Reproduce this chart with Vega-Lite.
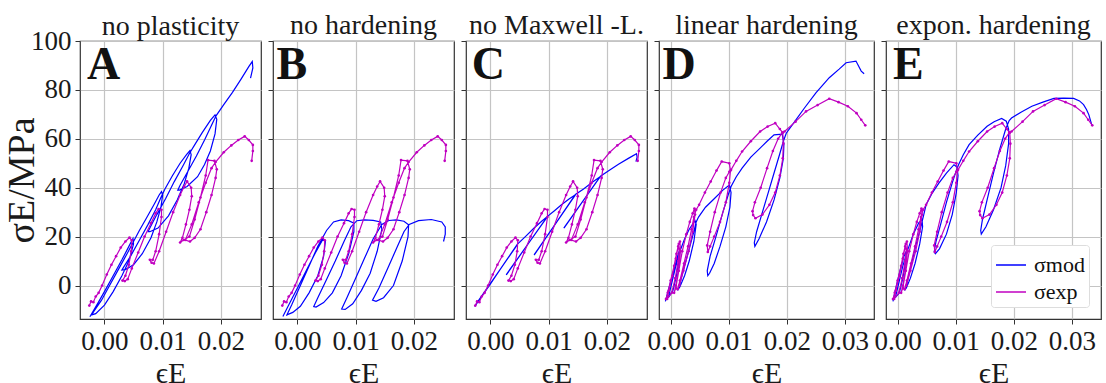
{
"$schema":"https://vega.github.io/schema/vega-lite/v6.json",
"padding":{"left":2,"top":10,"right":0,"bottom":0},
"spacing":12,
"bounds":"flush",
"background":"white",
"datasets":{
"A":[{"x":-0.0025,"y":-12.8},{"x":-0.0012,"y":-7.5},{"x":0.0,"y":-2.5},{"x":0.0015,"y":4},{"x":0.003,"y":10.5},{"x":0.0042,"y":16},{"x":0.0049,"y":19.2},{"x":0.005,"y":17},{"x":0.0042,"y":10},{"x":0.003,"y":4},{"x":0.0015,"y":-2.5},{"x":0.0,"y":-8},{"x":-0.0015,"y":-11.5},{"x":-0.0022,"y":-12},{"x":-0.0018,"y":-10.5},{"x":-0.0005,"y":-6},{"x":0.001,"y":0.5},{"x":0.0025,"y":7},{"x":0.004,"y":13.5},{"x":0.005,"y":18},{"x":0.006,"y":22.5},{"x":0.0072,"y":27.5},{"x":0.0085,"y":33},{"x":0.0094,"y":37},{"x":0.0098,"y":38.4},{"x":0.01,"y":37},{"x":0.0097,"y":32},{"x":0.009,"y":26},{"x":0.008,"y":19.5},{"x":0.0065,"y":13},{"x":0.005,"y":8.5},{"x":0.0036,"y":6.5},{"x":0.003,"y":6.3},{"x":0.0033,"y":7.5},{"x":0.0045,"y":12},{"x":0.006,"y":18.5},{"x":0.0075,"y":25},{"x":0.0088,"y":31},{"x":0.0097,"y":36},{"x":0.0104,"y":39.5},{"x":0.0117,"y":45},{"x":0.013,"y":50},{"x":0.0141,"y":53.5},{"x":0.0147,"y":55.2},{"x":0.0149,"y":53.5},{"x":0.0145,"y":48},{"x":0.0137,"y":41.5},{"x":0.0125,"y":35},{"x":0.011,"y":28.5},{"x":0.0092,"y":23.5},{"x":0.0078,"y":22},{"x":0.0075,"y":22},{"x":0.0078,"y":23.5},{"x":0.009,"y":29},{"x":0.0105,"y":35.5},{"x":0.012,"y":42.5},{"x":0.0135,"y":49},{"x":0.0146,"y":54},{"x":0.0155,"y":57.5},{"x":0.0168,"y":62.5},{"x":0.0182,"y":67.5},{"x":0.019,"y":69.8},{"x":0.0193,"y":68},{"x":0.019,"y":62},{"x":0.0182,"y":55},{"x":0.0172,"y":49.5},{"x":0.016,"y":44.5},{"x":0.0142,"y":40.5},{"x":0.0129,"y":39},{"x":0.0126,"y":39},{"x":0.013,"y":41},{"x":0.0143,"y":46.5},{"x":0.0158,"y":53},{"x":0.0172,"y":59.5},{"x":0.0184,"y":65.5},{"x":0.0192,"y":69.5},{"x":0.0205,"y":74},{"x":0.022,"y":79},{"x":0.0235,"y":84.5},{"x":0.0248,"y":89.5},{"x":0.0254,"y":91.6},{"x":0.0255,"y":89},{"x":0.0251,"y":84.8}],
"B":[{"x":-0.0025,"y":-12.7},{"x":-0.0015,"y":-8},{"x":0.0,"y":-1},{"x":0.0015,"y":6},{"x":0.003,"y":13},{"x":0.0044,"y":19},{"x":0.0048,"y":18},{"x":0.0045,"y":12},{"x":0.0035,"y":4},{"x":0.002,"y":-3},{"x":0.0005,"y":-8.5},{"x":-0.0008,"y":-11},{"x":-0.0018,"y":-12},{"x":-0.001,"y":-8},{"x":0.0005,"y":0},{"x":0.002,"y":8},{"x":0.0035,"y":16},{"x":0.005,"y":22.5},{"x":0.0062,"y":26},{"x":0.0075,"y":26.8},{"x":0.0088,"y":26.5},{"x":0.0097,"y":25.5},{"x":0.0097,"y":22},{"x":0.0088,"y":13},{"x":0.0075,"y":4},{"x":0.006,"y":-3},{"x":0.0045,"y":-7},{"x":0.0032,"y":-8.8},{"x":0.0028,"y":-8.6},{"x":0.0035,"y":-5},{"x":0.005,"y":2.5},{"x":0.0065,"y":10},{"x":0.008,"y":18},{"x":0.0092,"y":24},{"x":0.0102,"y":26.5},{"x":0.0115,"y":26.8},{"x":0.013,"y":26.6},{"x":0.0143,"y":26},{"x":0.0145,"y":23},{"x":0.0137,"y":14},{"x":0.0125,"y":5},{"x":0.011,"y":-2},{"x":0.0095,"y":-7.5},{"x":0.0082,"y":-9.8},{"x":0.0076,"y":-9.6},{"x":0.0085,"y":-5},{"x":0.01,"y":3},{"x":0.0115,"y":11},{"x":0.013,"y":19},{"x":0.0145,"y":25},{"x":0.0157,"y":26.6},{"x":0.017,"y":26.8},{"x":0.0183,"y":26.3},{"x":0.0191,"y":24.8},{"x":0.019,"y":20},{"x":0.018,"y":10},{"x":0.0165,"y":0},{"x":0.0148,"y":-5},{"x":0.0135,"y":-6.5},{"x":0.0129,"y":-6},{"x":0.014,"y":-1},{"x":0.0155,"y":7},{"x":0.017,"y":15},{"x":0.0183,"y":22},{"x":0.0192,"y":25},{"x":0.0208,"y":26.5},{"x":0.023,"y":27},{"x":0.0248,"y":26},{"x":0.0254,"y":24},{"x":0.0254,"y":21},{"x":0.0251,"y":18}],
"C":[{"x":-0.0027,"y":-8.6},{"x":-0.0015,"y":-4.5},{"x":0.0,"y":0.7},{"x":0.0015,"y":6},{"x":0.003,"y":11.2},{"x":0.0046,"y":16.6},{"x":-0.0023,"y":-7},{"x":-0.0021,"y":-6.6},{"x":0.0046,"y":16.8},{"x":0.006,"y":20},{"x":0.0075,"y":23.5},{"x":0.0088,"y":26.3},{"x":0.0098,"y":28.2},{"x":0.0027,"y":4.4},{"x":0.0028,"y":4.6},{"x":0.0098,"y":28.3},{"x":0.011,"y":30.6},{"x":0.0122,"y":33},{"x":0.0135,"y":35.4},{"x":0.0146,"y":37.1},{"x":0.0075,"y":12.5},{"x":0.0076,"y":12.7},{"x":0.0146,"y":37.2},{"x":0.016,"y":39.5},{"x":0.0175,"y":42.2},{"x":0.0189,"y":44.6},{"x":0.0126,"y":23.5},{"x":0.0127,"y":23.7},{"x":0.0189,"y":44.7},{"x":0.0205,"y":47.2},{"x":0.022,"y":49.6},{"x":0.0237,"y":52},{"x":0.0251,"y":53.9},{"x":0.0252,"y":52.5},{"x":0.025,"y":50.7}],
"D":[{"x":-0.0009,"y":-6.5},{"x":-0.0004,"y":-2},{"x":0.0004,"y":5},{"x":0.0012,"y":12},{"x":0.0016,"y":15},{"x":0.0015,"y":11},{"x":0.001,"y":4},{"x":0.0004,"y":-2},{"x":-0.0004,"y":-5},{"x":0.0,"y":-1},{"x":0.0008,"y":7},{"x":0.0016,"y":14},{"x":0.0024,"y":19},{"x":0.0032,"y":23},{"x":0.0042,"y":26.5},{"x":0.0044,"y":25},{"x":0.004,"y":18},{"x":0.0032,"y":10},{"x":0.0024,"y":4},{"x":0.0016,"y":-0.5},{"x":0.0012,"y":-2},{"x":0.0016,"y":1},{"x":0.0024,"y":8},{"x":0.0032,"y":15},{"x":0.004,"y":22},{"x":0.0044,"y":26},{"x":0.0048,"y":28},{"x":0.006,"y":32},{"x":0.0075,"y":35.5},{"x":0.009,"y":39},{"x":0.0101,"y":41.1},{"x":0.0104,"y":38},{"x":0.0102,"y":32},{"x":0.0095,"y":24},{"x":0.0085,"y":16},{"x":0.0075,"y":9},{"x":0.0067,"y":5},{"x":0.0064,"y":4},{"x":0.0063,"y":6},{"x":0.0068,"y":12},{"x":0.0078,"y":20},{"x":0.009,"y":30},{"x":0.0099,"y":37},{"x":0.0104,"y":40.5},{"x":0.0113,"y":44.5},{"x":0.0123,"y":48},{"x":0.0138,"y":52.5},{"x":0.0154,"y":56.2},{"x":0.0166,"y":59},{"x":0.0178,"y":61.6},{"x":0.0192,"y":61.9},{"x":0.0195,"y":58},{"x":0.0194,"y":52},{"x":0.0188,"y":44},{"x":0.0178,"y":35},{"x":0.0165,"y":26},{"x":0.0152,"y":19},{"x":0.0145,"y":16},{"x":0.0144,"y":17.5},{"x":0.0148,"y":22},{"x":0.0158,"y":30},{"x":0.0168,"y":38},{"x":0.0178,"y":46},{"x":0.0188,"y":54},{"x":0.0194,"y":59},{"x":0.0199,"y":62.3},{"x":0.0215,"y":67.5},{"x":0.023,"y":72.5},{"x":0.025,"y":78.8},{"x":0.0273,"y":85},{"x":0.029,"y":88.5},{"x":0.0302,"y":91.1},{"x":0.0319,"y":91.8},{"x":0.0328,"y":87.7},{"x":0.0333,"y":86.6}],
"E":[{"x":-0.0008,"y":-6.5},{"x":-0.0003,"y":-1},{"x":0.0004,"y":6},{"x":0.0011,"y":12},{"x":0.0015,"y":14},{"x":0.0014,"y":10},{"x":0.0009,"y":3},{"x":0.0003,"y":-3},{"x":-0.0004,"y":-5},{"x":0.0001,"y":0},{"x":0.0009,"y":8},{"x":0.0018,"y":15},{"x":0.0027,"y":21},{"x":0.0036,"y":25.5},{"x":0.0042,"y":27},{"x":0.0043,"y":24},{"x":0.0038,"y":17},{"x":0.003,"y":9},{"x":0.0022,"y":3},{"x":0.0015,"y":-1},{"x":0.0012,"y":-2},{"x":0.0016,"y":1},{"x":0.0024,"y":9},{"x":0.0032,"y":17},{"x":0.004,"y":24},{"x":0.0045,"y":29},{"x":0.0049,"y":33},{"x":0.006,"y":38},{"x":0.0071,"y":41.9},{"x":0.0084,"y":46},{"x":0.0097,"y":49.4},{"x":0.0102,"y":48.5},{"x":0.0104,"y":45},{"x":0.0101,"y":38},{"x":0.0094,"y":29},{"x":0.0084,"y":21},{"x":0.0072,"y":15},{"x":0.0065,"y":13},{"x":0.0063,"y":13.8},{"x":0.0066,"y":18},{"x":0.0074,"y":25},{"x":0.0084,"y":34},{"x":0.0094,"y":42},{"x":0.0101,"y":47},{"x":0.0105,"y":49.5},{"x":0.0113,"y":53.5},{"x":0.0123,"y":57.6},{"x":0.0138,"y":61.5},{"x":0.0154,"y":65.1},{"x":0.0166,"y":67},{"x":0.0179,"y":68.3},{"x":0.0187,"y":67.2},{"x":0.0191,"y":64},{"x":0.0191,"y":58},{"x":0.0186,"y":49},{"x":0.0178,"y":40},{"x":0.0165,"y":31},{"x":0.0152,"y":24},{"x":0.0144,"y":21},{"x":0.0143,"y":22.5},{"x":0.0146,"y":27},{"x":0.0155,"y":36},{"x":0.0165,"y":46},{"x":0.0176,"y":56},{"x":0.0186,"y":64},{"x":0.0192,"y":67.5},{"x":0.0196,"y":68.5},{"x":0.0213,"y":71},{"x":0.0231,"y":73.3},{"x":0.025,"y":75},{"x":0.0269,"y":76.5},{"x":0.0286,"y":76.6},{"x":0.0303,"y":76.5},{"x":0.0313,"y":75.5},{"x":0.032,"y":74},{"x":0.0325,"y":72},{"x":0.0329,"y":69.9},{"x":0.0334,"y":65.8}],
"xABC":[{"x":-0.0026,"y":-8.2},{"x":-0.0023,"y":-6.5},{"x":-0.0019,"y":-6.8},{"x":-0.0015,"y":-4.5},{"x":-0.001,"y":-3},{"x":-0.0004,"y":0},{"x":0.0004,"y":4.5},{"x":0.0012,"y":8.5},{"x":0.002,"y":12},{"x":0.0028,"y":15.5},{"x":0.0036,"y":18},{"x":0.0043,"y":19.6},{"x":0.0047,"y":18.5},{"x":0.0046,"y":14},{"x":0.0042,"y":8.5},{"x":0.0036,"y":4},{"x":0.0031,"y":2},{"x":0.0035,"y":1.8},{"x":0.004,"y":2.6},{"x":0.0047,"y":7},{"x":0.0058,"y":13.5},{"x":0.0069,"y":20},{"x":0.008,"y":25.5},{"x":0.0088,"y":29.5},{"x":0.0093,"y":31.3},{"x":0.0098,"y":31},{"x":0.0098,"y":28},{"x":0.0094,"y":21},{"x":0.0088,"y":14},{"x":0.0083,"y":10.5},{"x":0.0078,"y":10.5},{"x":0.0081,"y":9.3},{"x":0.0085,"y":9},{"x":0.0094,"y":14},{"x":0.0106,"y":22},{"x":0.0118,"y":30},{"x":0.013,"y":37},{"x":0.0137,"y":40.5},{"x":0.0142,"y":42.6},{"x":0.0149,"y":40},{"x":0.015,"y":36.5},{"x":0.0146,"y":31},{"x":0.014,"y":25},{"x":0.0134,"y":19.5},{"x":0.013,"y":17.6},{"x":0.0136,"y":18.6},{"x":0.0146,"y":20},{"x":0.0155,"y":27},{"x":0.0165,"y":36},{"x":0.0174,"y":45},{"x":0.0178,"y":51.3},{"x":0.0189,"y":51},{"x":0.0193,"y":47.5},{"x":0.0191,"y":44},{"x":0.0184,"y":37},{"x":0.0175,"y":30},{"x":0.0165,"y":23},{"x":0.0155,"y":19.5},{"x":0.0147,"y":18},{"x":0.0139,"y":18.6},{"x":0.015,"y":25},{"x":0.0162,"y":34},{"x":0.0174,"y":42},{"x":0.0184,"y":48},{"x":0.0191,"y":50.5},{"x":0.0205,"y":54.5},{"x":0.0218,"y":57.3},{"x":0.023,"y":59.5},{"x":0.0241,"y":61},{"x":0.0248,"y":59.5},{"x":0.0255,"y":57.5},{"x":0.0255,"y":55},{"x":0.0253,"y":51}],
"xDE":[{"x":-0.0008,"y":-5.5},{"x":-0.0005,"y":-3},{"x":0.0,"y":2},{"x":0.0006,"y":8},{"x":0.001,"y":13},{"x":0.0013,"y":16},{"x":0.0015,"y":15},{"x":0.0013,"y":10},{"x":0.0008,"y":3},{"x":0.0002,"y":-3},{"x":-0.0006,"y":-5.5},{"x":-0.0003,"y":-2},{"x":0.0003,"y":4},{"x":0.0009,"y":11},{"x":0.0014,"y":17},{"x":0.0016,"y":18},{"x":0.0017,"y":14},{"x":0.0013,"y":6},{"x":0.0009,"y":0},{"x":0.0006,"y":-3},{"x":0.0009,"y":-1},{"x":0.0014,"y":6},{"x":0.002,"y":14},{"x":0.0027,"y":21},{"x":0.0033,"y":26},{"x":0.0038,"y":29.5},{"x":0.0041,"y":31.5},{"x":0.0042,"y":29},{"x":0.0038,"y":22},{"x":0.0031,"y":14},{"x":0.0022,"y":6},{"x":0.0015,"y":0},{"x":0.0012,"y":-1.5},{"x":0.0016,"y":2},{"x":0.0023,"y":9},{"x":0.003,"y":16},{"x":0.0036,"y":23},{"x":0.004,"y":28},{"x":0.0044,"y":31},{"x":0.0049,"y":33},{"x":0.0059,"y":38},{"x":0.0069,"y":42.5},{"x":0.0079,"y":47},{"x":0.0088,"y":50.7},{"x":0.0101,"y":50},{"x":0.0103,"y":47},{"x":0.0101,"y":42},{"x":0.0095,"y":34},{"x":0.0085,"y":26},{"x":0.0075,"y":20},{"x":0.0068,"y":16},{"x":0.0064,"y":13.7},{"x":0.0063,"y":16.4},{"x":0.0068,"y":22},{"x":0.0076,"y":30},{"x":0.0086,"y":38},{"x":0.0095,"y":44},{"x":0.0101,"y":46.5},{"x":0.0104,"y":47.3},{"x":0.0113,"y":51},{"x":0.0123,"y":54.8},{"x":0.0138,"y":59},{"x":0.0154,"y":63},{"x":0.0167,"y":65},{"x":0.018,"y":66.4},{"x":0.0188,"y":64},{"x":0.0193,"y":62.5},{"x":0.0194,"y":58},{"x":0.0193,"y":52},{"x":0.0188,"y":45},{"x":0.018,"y":38},{"x":0.017,"y":33},{"x":0.0158,"y":29},{"x":0.0146,"y":27.5},{"x":0.0142,"y":28.8},{"x":0.0141,"y":30.4},{"x":0.0145,"y":34},{"x":0.0155,"y":40},{"x":0.0166,"y":48},{"x":0.0176,"y":55},{"x":0.0185,"y":60},{"x":0.0192,"y":62.5},{"x":0.0196,"y":63},{"x":0.0215,"y":67},{"x":0.0233,"y":71.2},{"x":0.0253,"y":73.8},{"x":0.0273,"y":76.4},{"x":0.0289,"y":75},{"x":0.0305,"y":73.3},{"x":0.032,"y":70.5},{"x":0.0328,"y":67.8},{"x":0.0335,"y":65.5}]
},
"hconcat":[
{"width":181,"height":278,"title":{"text":"no plasticity","offset":-14},
"layer":[
{"data":{"name":"A"},"mark":{"type":"line","strokeWidth":1.2,"clip":true},"encoding":{
"x":{"field":"x","type":"quantitative","scale":{"domain":[-0.0042,0.0269],"nice":false,"zero":false},"axis":{"values":[0,0.01,0.02],"format":".2f","title":"ϵE","titleFontSize":30,"titlePadding":4}},
"y":{"field":"y","type":"quantitative","scale":{"domain":[-13.7,100],"nice":false,"zero":false},"axis":{"values":[0,20,40,60,80,100],"format":"d","title":"σE/MPa","titleFontSize":38,"titlePadding":-11}},
"color":{"datum":"σmod","type":"nominal","scale":{"domain":["σmod","σexp"],"range":["#0000ff","#c000c0"]},"legend":null},
"order":{"value":null}}},
{"data":{"name":"xABC"},"mark":{"type":"line","strokeWidth":1.2,"clip":true},"encoding":{"x":{"field":"x","type":"quantitative"},"y":{"field":"y","type":"quantitative"},"color":{"datum":"σexp","type":"nominal","legend":null},"order":{"value":null}}},
{"data":{"name":"xABC"},"mark":{"type":"circle","size":7,"opacity":1,"color":"#c000c0","clip":true},"encoding":{"x":{"field":"x","type":"quantitative"},"y":{"field":"y","type":"quantitative"}}},
{"data":{"values":[{"t":"A"}]},"mark":{"type":"text","font":"Liberation Serif","fontWeight":"bold","fontSize":46,"align":"left","baseline":"alphabetic","color":"#111111"},"encoding":{"text":{"field":"t"},"x":{"datum":-0.003},"y":{"datum":84.4}}}
]},
{"width":181,"height":278,"title":{"text":"no hardening","offset":1},
"layer":[
{"data":{"name":"B"},"mark":{"type":"line","strokeWidth":1.2,"clip":true},"encoding":{
"x":{"field":"x","type":"quantitative","scale":{"domain":[-0.0042,0.0269],"nice":false,"zero":false},"axis":{"values":[0,0.01,0.02],"format":".2f","title":"ϵE","titleFontSize":30,"titlePadding":4}},
"y":{"field":"y","type":"quantitative","scale":{"domain":[-13.7,100],"nice":false,"zero":false},"axis":{"values":[0,20,40,60,80,100],"labels":false,"title":null}},
"color":{"datum":"σmod","type":"nominal","scale":{"domain":["σmod","σexp"],"range":["#0000ff","#c000c0"]},"legend":null},
"order":{"value":null}}},
{"data":{"name":"xABC"},"mark":{"type":"line","strokeWidth":1.2,"clip":true},"encoding":{"x":{"field":"x","type":"quantitative"},"y":{"field":"y","type":"quantitative"},"color":{"datum":"σexp","type":"nominal","legend":null},"order":{"value":null}}},
{"data":{"name":"xABC"},"mark":{"type":"circle","size":7,"opacity":1,"color":"#c000c0","clip":true},"encoding":{"x":{"field":"x","type":"quantitative"},"y":{"field":"y","type":"quantitative"}}},
{"data":{"values":[{"t":"B"}]},"mark":{"type":"text","font":"Liberation Serif","fontWeight":"bold","fontSize":46,"align":"left","baseline":"alphabetic","color":"#111111"},"encoding":{"text":{"field":"t"},"x":{"datum":-0.0036},"y":{"datum":84.4}}}
]},
{"width":181,"height":278,"title":{"text":"no Maxwell -L.","offset":1},
"layer":[
{"data":{"name":"C"},"mark":{"type":"line","strokeWidth":1.2,"clip":true},"encoding":{
"x":{"field":"x","type":"quantitative","scale":{"domain":[-0.0042,0.0269],"nice":false,"zero":false},"axis":{"values":[0,0.01,0.02],"format":".2f","title":"ϵE","titleFontSize":30,"titlePadding":4}},
"y":{"field":"y","type":"quantitative","scale":{"domain":[-13.7,100],"nice":false,"zero":false},"axis":{"values":[0,20,40,60,80,100],"labels":false,"title":null}},
"color":{"datum":"σmod","type":"nominal","scale":{"domain":["σmod","σexp"],"range":["#0000ff","#c000c0"]},"legend":null},
"order":{"value":null}}},
{"data":{"name":"xABC"},"mark":{"type":"line","strokeWidth":1.2,"clip":true},"encoding":{"x":{"field":"x","type":"quantitative"},"y":{"field":"y","type":"quantitative"},"color":{"datum":"σexp","type":"nominal","legend":null},"order":{"value":null}}},
{"data":{"name":"xABC"},"mark":{"type":"circle","size":7,"opacity":1,"color":"#c000c0","clip":true},"encoding":{"x":{"field":"x","type":"quantitative"},"y":{"field":"y","type":"quantitative"}}},
{"data":{"values":[{"t":"C"}]},"mark":{"type":"text","font":"Liberation Serif","fontWeight":"bold","fontSize":46,"align":"left","baseline":"alphabetic","color":"#111111"},"encoding":{"text":{"field":"t"},"x":{"datum":-0.0032},"y":{"datum":84.4}}}
]},
{"width":215,"height":278,"title":{"text":"linear hardening","offset":1},
"layer":[
{"data":{"name":"D"},"mark":{"type":"line","strokeWidth":1.2,"clip":true},"encoding":{
"x":{"field":"x","type":"quantitative","scale":{"domain":[-0.002,0.035],"nice":false,"zero":false},"axis":{"values":[0,0.01,0.02,0.03],"format":".2f","title":"ϵE","titleFontSize":30,"titlePadding":4}},
"y":{"field":"y","type":"quantitative","scale":{"domain":[-13.7,100],"nice":false,"zero":false},"axis":{"values":[0,20,40,60,80,100],"labels":false,"title":null}},
"color":{"datum":"σmod","type":"nominal","scale":{"domain":["σmod","σexp"],"range":["#0000ff","#c000c0"]},"legend":null},
"order":{"value":null}}},
{"data":{"name":"xDE"},"mark":{"type":"line","strokeWidth":1.2,"clip":true},"encoding":{"x":{"field":"x","type":"quantitative"},"y":{"field":"y","type":"quantitative"},"color":{"datum":"σexp","type":"nominal","legend":null},"order":{"value":null}}},
{"data":{"name":"xDE"},"mark":{"type":"circle","size":7,"opacity":1,"color":"#c000c0","clip":true},"encoding":{"x":{"field":"x","type":"quantitative"},"y":{"field":"y","type":"quantitative"}}},
{"data":{"values":[{"t":"D"}]},"mark":{"type":"text","font":"Liberation Serif","fontWeight":"bold","fontSize":46,"align":"left","baseline":"alphabetic","color":"#111111"},"encoding":{"text":{"field":"t"},"x":{"datum":-0.0014},"y":{"datum":84.4}}}
]},
{"width":215,"height":278,"title":{"text":"expon. hardening","offset":1},
"layer":[
{"data":{"name":"E"},"mark":{"type":"line","strokeWidth":1.2,"clip":true},"encoding":{
"x":{"field":"x","type":"quantitative","scale":{"domain":[-0.002,0.035],"nice":false,"zero":false},"axis":{"values":[0,0.01,0.02,0.03],"format":".2f","title":"ϵE","titleFontSize":30,"titlePadding":4}},
"y":{"field":"y","type":"quantitative","scale":{"domain":[-13.7,100],"nice":false,"zero":false},"axis":{"values":[0,20,40,60,80,100],"labels":false,"title":null}},
"color":{"datum":"σmod","type":"nominal","scale":{"domain":["σmod","σexp"],"range":["#0000ff","#c000c0"]},"legend":{"orient":"bottom-right","offset":12,"title":null,"symbolType":"stroke","symbolSize":900,"symbolStrokeWidth":1.5,"labelFont":"Liberation Serif","labelFontSize":22,"labelColor":"#111111","padding":4,"fillColor":"white","strokeColor":"#dddddd","cornerRadius":3,"rowPadding":-12,"labelOffset":7}},
"order":{"value":null}}},
{"data":{"name":"xDE"},"mark":{"type":"line","strokeWidth":1.2,"clip":true},"encoding":{"x":{"field":"x","type":"quantitative"},"y":{"field":"y","type":"quantitative"},"color":{"datum":"σexp","type":"nominal"},"order":{"value":null}}},
{"data":{"name":"xDE"},"mark":{"type":"circle","size":7,"opacity":1,"color":"#c000c0","clip":true},"encoding":{"x":{"field":"x","type":"quantitative"},"y":{"field":"y","type":"quantitative"}}},
{"data":{"values":[{"t":"E"}]},"mark":{"type":"text","font":"Liberation Serif","fontWeight":"bold","fontSize":46,"align":"left","baseline":"alphabetic","color":"#111111"},"encoding":{"text":{"field":"t"},"x":{"datum":-0.0008},"y":{"datum":84.4}}}
]}
],
"resolve":{"scale":{"x":"independent","y":"independent","color":"independent"},"legend":{"color":"independent"}},
"config":{
"font":"Liberation Serif",
"view":{"stroke":"#333333","strokeWidth":1.2},
"axis":{"labelFont":"Liberation Serif","labelFontSize":27,"labelColor":"#1a1a1a","titleFont":"Liberation Serif","titleColor":"#1a1a1a","titleFontWeight":"normal","gridColor":"#c4c4c4","gridWidth":1.2,"tickColor":"#333333","tickSize":5,"tickWidth":1,"domain":false,"labelPadding":4,"labelFlush":false,"labelOverlap":false},
"title":{"font":"Liberation Serif","fontSize":28,"fontWeight":"normal","color":"#1a1a1a","offset":6}
}
}
